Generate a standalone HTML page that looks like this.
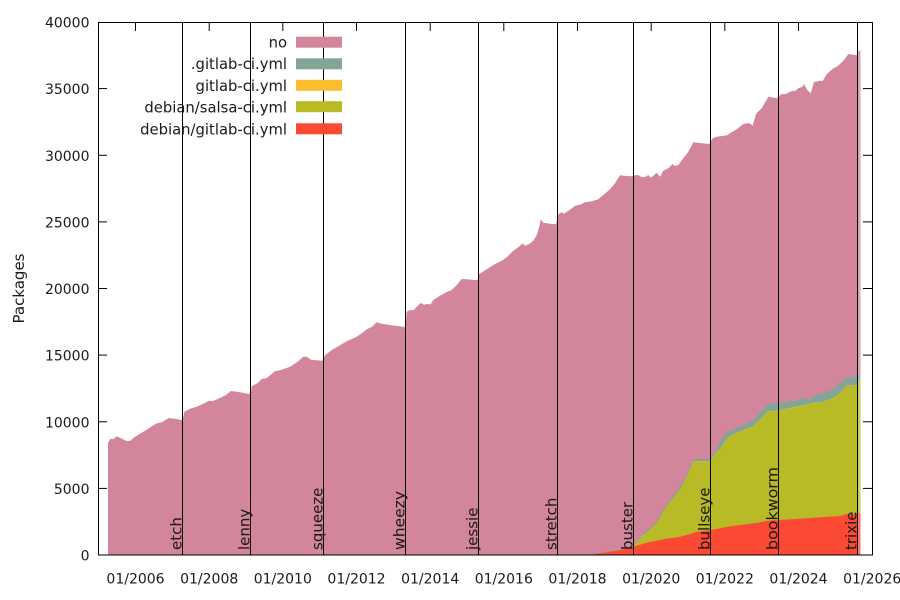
<!DOCTYPE html>
<html>
<head>
<meta charset="utf-8">
<style>
  html, body { margin: 0; padding: 0; background: #ffffff; }
  svg { display: block; }
  text { font-family: "DejaVu Sans", "Liberation Sans", sans-serif; fill: #1a1a1a; }
</style>
</head>
<body>
<svg width="900" height="600" viewBox="0 0 900 600" xmlns="http://www.w3.org/2000/svg">
  <rect x="0" y="0" width="900" height="600" fill="#ffffff"/>

  <!-- ticks (under fill) -->
  <g stroke="#000" stroke-width="1">
    <line x1="98" y1="488.4" x2="107" y2="488.4"/>
    <line x1="98" y1="421.8" x2="107" y2="421.8"/>
    <line x1="98" y1="355.1" x2="107" y2="355.1"/>
    <line x1="98" y1="288.5" x2="107" y2="288.5"/>
    <line x1="98" y1="221.9" x2="107" y2="221.9"/>
    <line x1="98" y1="155.3" x2="107" y2="155.3"/>
    <line x1="98" y1="88.6" x2="107" y2="88.6"/>
    <line x1="863" y1="488.4" x2="872" y2="488.4"/>
    <line x1="863" y1="421.8" x2="872" y2="421.8"/>
    <line x1="863" y1="355.1" x2="872" y2="355.1"/>
    <line x1="863" y1="288.5" x2="872" y2="288.5"/>
    <line x1="863" y1="221.9" x2="872" y2="221.9"/>
    <line x1="863" y1="155.3" x2="872" y2="155.3"/>
    <line x1="863" y1="88.6" x2="872" y2="88.6"/>
    <line x1="135.5" y1="22" x2="135.5" y2="31"/>
    <line x1="209.2" y1="22" x2="209.2" y2="31"/>
    <line x1="282.8" y1="22" x2="282.8" y2="31"/>
    <line x1="356.5" y1="22" x2="356.5" y2="31"/>
    <line x1="430.2" y1="22" x2="430.2" y2="31"/>
    <line x1="503.8" y1="22" x2="503.8" y2="31"/>
    <line x1="577.5" y1="22" x2="577.5" y2="31"/>
    <line x1="651.2" y1="22" x2="651.2" y2="31"/>
    <line x1="724.8" y1="22" x2="724.8" y2="31"/>
    <line x1="798.5" y1="22" x2="798.5" y2="31"/>
    <line x1="135.5" y1="555" x2="135.5" y2="546"/>
    <line x1="209.2" y1="555" x2="209.2" y2="546"/>
    <line x1="282.8" y1="555" x2="282.8" y2="546"/>
    <line x1="356.5" y1="555" x2="356.5" y2="546"/>
    <line x1="430.2" y1="555" x2="430.2" y2="546"/>
    <line x1="503.8" y1="555" x2="503.8" y2="546"/>
    <line x1="577.5" y1="555" x2="577.5" y2="546"/>
    <line x1="651.2" y1="555" x2="651.2" y2="546"/>
    <line x1="724.8" y1="555" x2="724.8" y2="546"/>
    <line x1="798.5" y1="555" x2="798.5" y2="546"/>
  </g>

  <!-- "no" (total) -->
  <polygon fill="#d3869b" points="
108,555 108,442.7 110.7,438.7 113.3,439.3 116.7,436.3 120,437.7 126.7,441 130,441 135,436.7 145,430.7
156.7,423.3 161.7,422.3 169,418 175,418.7 181,420 182.6,420.3 184.3,411.7 190,408.7 196.7,406.7 203.3,403.7
209,400.7 212.3,401.3 220,398 225.7,395.3 231,391 238.3,392 249,394 250.6,394.2 251.7,386.3 257.7,383
261.7,379 266.7,378 275,371.3 280,370.3 284.3,368.7 290,366.7 297.7,361.7 303.3,356.7 306.7,356.7 311,359.7
316.7,360.3 322.7,360.7 325,355.3 332.3,349.7 338.3,346.3 346.7,341.3 356.7,336.7 361.7,333.3 367.7,328.7 371.7,327
376.7,322.3 381.7,323.7 391.7,325.3 404.3,327 405.6,325.5 406.7,311.7 409.3,310.3 414,310 416.7,306.7 420.7,303
424,304.7 426.7,304 430.7,304.3 433.3,300 440,295.7 446.7,292 451.7,290 456.7,285 461.7,279 466.7,279.3
477.3,280.3 479.3,274 486.7,269.3 495,264 501.7,260.7 506.7,257.3 513.3,250.7 518.3,247.3 522.7,243.3 525,245.7
529.3,244 533.3,240.7 536.7,235 539.3,226.7 540.7,219.3 543.3,222.7 550,223.7 556,224.3 558.3,214.3 561.7,212.3
564,213.7 568.3,210.7 572.7,207.7 575,205.7 580,204.7 585,202.3 591.7,201.3 598.3,199.3 603.3,195 610,189.3
615,183.3 620,175.3 626.7,176 632.7,176.3 635,175.3 638.3,175 640.7,176.7 645,177.3 648.3,175 651,177.7
656.7,172.7 660,176.7 663.3,170.7 668.3,168.3 672.7,164 675,166 678.3,165 683.3,158.3 688.3,151.7 693.3,142.3
700,143 709.3,144 712.7,138.3 716.7,136.7 727.3,135.3 730,133.3 736.7,129.3 743.3,124 749.3,123 752.7,125.7
756,114 761.7,108.3 768.3,96.7 775,98 778.3,98.3 780.7,94.3 786,94 790,91.7 793.3,90.7 795,91
798.3,88.3 802.7,86.7 804,84 807.3,90 810.7,93.3 814,82 818.3,81.3 820,80.7 822.7,81 826.7,74.3
833.3,68.3 836.7,66.7 840,64 844,60 848.3,54 853.3,54.7 857.3,55 858.7,50.7 860.5,50 860.5,555"/>

  <!-- .gitlab-ci.yml -->
  <polygon fill="#83a598" points="
578,555 600,553 616.7,550.3 633.3,545.3 637,541.8 642,534.8 648.3,529.8 656.7,521.3 666.7,504.3 673.3,495.8
680,487.3 686.7,474.8 693.3,459.3 710,459 716.7,449 720,441.7 726.7,431.7 733.3,429.3 751.7,421 768.3,404
778.3,403.3 800,400 805,397.3 808.3,400 813.3,396 823.3,393.3 833.3,389.3 846.7,377.3 856.7,376.7 858.5,373.8
860.5,373.3 860.5,555"/>

  <!-- gitlab-ci.yml (thin) -->
  <polygon fill="#fabd2f" points="
584,555 600,553.4 616.7,550.9 633.3,546.1 636.7,543 641.7,536.4 648.3,531.4 656.7,523 666.7,506.4 673.3,498
680,489.7 686.7,477 693.3,461.3 710,461.3 716.7,451.3 720,449.6 725,441.3 730,435.6 736.7,432.9 746.7,428.9
753.3,426.3 761.7,417.9 768.3,411.3 778.3,410.6 785,408.9 793.3,407.3 801.7,405.6 806.7,404.6 813.3,402.9 823.3,401.9
833.3,397.9 840,392.9 846.7,385.6 856.7,385.3 858,380.6 860.5,380.3 860.5,555"/>

  <!-- debian/salsa-ci.yml -->
  <polygon fill="#b8bb26" points="
585,555 600,553.5 616.7,551 633.3,546.3 636.7,543.3 641.7,536.7 648.3,531.7 656.7,523.3 666.7,506.7 673.3,498.3
680,490 686.7,477.3 693.3,461.7 710,461.7 716.7,451.7 720,450 725,441.7 730,436 736.7,433.3 746.7,429.3
753.3,426.7 761.7,418.3 768.3,411.7 778.3,411 785,409.3 793.3,407.7 801.7,406 806.7,405 813.3,403.3 823.3,402.3
833.3,398.3 840,393.3 846.7,386 856.7,385.7 858,381 860.5,380.7 860.5,555"/>

  <!-- debian/gitlab-ci.yml -->
  <polygon fill="#fb4934" points="
588,555 603.3,552.7 616.7,550.7 633.3,546.7 636.7,545.7 646.7,542.7 663.3,539.3 680,536.7 690,534 696.7,531.7
710,530.3 726.7,527 740,525 758.3,522.7 766.7,520.7 778.3,520 800,518.7 820,517.3 840,516 846.7,514
860.5,513.3 860.5,555"/>

  <rect x="858" y="50" width="2.5" height="505" fill="#ffffff" fill-opacity="0.25"/>

  <!-- release lines -->
  <g stroke="#000" stroke-width="1">
    <line x1="182.5" y1="22" x2="182.5" y2="555"/>
    <line x1="250.5" y1="22" x2="250.5" y2="555"/>
    <line x1="323.5" y1="22" x2="323.5" y2="555"/>
    <line x1="405.5" y1="22" x2="405.5" y2="555"/>
    <line x1="478.5" y1="22" x2="478.5" y2="555"/>
    <line x1="557.5" y1="22" x2="557.5" y2="555"/>
    <line x1="633.5" y1="22" x2="633.5" y2="555"/>
    <line x1="710.5" y1="22" x2="710.5" y2="555"/>
    <line x1="778.5" y1="22" x2="778.5" y2="555"/>
    <line x1="857.5" y1="22" x2="857.5" y2="555"/>
  </g>

  <!-- border -->
  <rect x="98.5" y="22.5" width="774" height="532.5" fill="none" stroke="#000" stroke-width="1"/>

  <!-- release labels -->
  <g font-size="15">
    <text transform="translate(181.3,550) rotate(-90)">etch</text>
    <text transform="translate(249.3,550) rotate(-90)">lenny</text>
    <text transform="translate(322.3,550) rotate(-90)">squeeze</text>
    <text transform="translate(404.3,550) rotate(-90)" textLength="59" lengthAdjust="spacingAndGlyphs">wheezy</text>
    <text transform="translate(477.3,550) rotate(-90)">jessie</text>
    <text transform="translate(556.3,550) rotate(-90)">stretch</text>
    <text transform="translate(632.3,550) rotate(-90)">buster</text>
    <text transform="translate(709.3,550) rotate(-90)">bullseye</text>
    <text transform="translate(777.3,550) rotate(-90)" textLength="83" lengthAdjust="spacingAndGlyphs">bookworm</text>
    <text transform="translate(856.5,550) rotate(-90)">trixie</text>
  </g>

  <!-- y tick labels -->
  <g font-size="14" text-anchor="end">
    <text x="89.5" y="560.5">0</text>
    <text x="89.5" y="493.9">5000</text>
    <text x="89.5" y="427.3">10000</text>
    <text x="89.5" y="360.6">15000</text>
    <text x="89.5" y="294">20000</text>
    <text x="89.5" y="227.4">25000</text>
    <text x="89.5" y="160.8">30000</text>
    <text x="89.5" y="94.1">35000</text>
    <text x="89.5" y="27.5">40000</text>
  </g>

  <!-- x tick labels -->
  <g font-size="14" text-anchor="middle">
    <text x="135.5" y="583.5">01/2006</text>
    <text x="209.2" y="583.5">01/2008</text>
    <text x="282.8" y="583.5">01/2010</text>
    <text x="356.5" y="583.5">01/2012</text>
    <text x="430.2" y="583.5">01/2014</text>
    <text x="503.8" y="583.5">01/2016</text>
    <text x="577.5" y="583.5">01/2018</text>
    <text x="651.2" y="583.5">01/2020</text>
    <text x="724.8" y="583.5">01/2022</text>
    <text x="798.5" y="583.5">01/2024</text>
    <text x="872.2" y="583.5">01/2026</text>
  </g>

  <text transform="translate(24,288.5) rotate(-90)" font-size="15" text-anchor="middle">Packages</text>

  <!-- legend -->
  <g font-size="14.8" text-anchor="end">
    <text x="287" y="47.5">no</text>
    <text x="287" y="69.2">.gitlab-ci.yml</text>
    <text x="287" y="90.8">gitlab-ci.yml</text>
    <text x="287" y="112.3">debian/salsa-ci.yml</text>
    <text x="287" y="134.3">debian/gitlab-ci.yml</text>
  </g>
  <rect x="296" y="36.7" width="46" height="11" fill="#d3869b"/>
  <rect x="296" y="58.3" width="46" height="11" fill="#83a598"/>
  <rect x="296" y="79.8" width="46" height="11" fill="#fabd2f"/>
  <rect x="296" y="101.2" width="46" height="11" fill="#b8bb26"/>
  <rect x="296" y="123.3" width="46" height="11" fill="#fb4934"/>
</svg>
</body>
</html>
